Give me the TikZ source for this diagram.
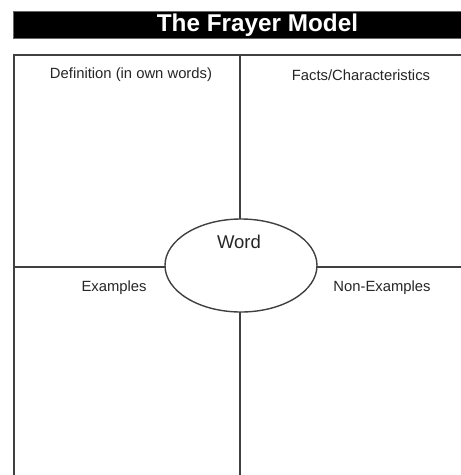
\documentclass[tikz,border=0pt]{standalone}
\usepackage{fontspec}
\setmainfont{Liberation Sans}
\usetikzlibrary{shapes.geometric}
\tikzset{
  gridline/.style={draw=black!75, line width=1.4pt},
  lbl/.style={inner sep=0pt, font=\fontsize{14.8}{17}\selectfont, text=black!85},
  titlebar/.style={fill=black, draw=black!60, line width=0.6pt},
}
\begin{document}
\begin{tikzpicture}[x=1pt,y=-1pt]
\useasboundingbox[fill=white] (0,0) rectangle (461,475);
% title bar
\node[titlebar, minimum width=448pt, minimum height=27pt, inner sep=0pt, anchor=north west] (bar) at (13,11) {};
\node[inner sep=0pt, text=white, font=\fontsize{24.3}{28}\selectfont\bfseries] (title) at (257.5,25) {The Frayer Model};
% grid coordinates
\coordinate (tl) at (14,55);
\coordinate (tr) at (461,55);
\coordinate (bl) at (14,475);
\coordinate (tm) at (240,55);
\coordinate (bm) at (240,475);
\coordinate (ml) at (14,267);
\coordinate (mr) at (461,267);
\draw[gridline] (bl) -- (tl) -- (tr);
\draw[gridline] (tm) -- (bm);
\draw[gridline] (ml) -- (mr);
% central ellipse
\node[ellipse, draw=black!75, line width=1.4pt, fill=white, minimum width=152pt, minimum height=93pt, inner sep=0pt] (ell) at (241,265.5) {};
\node[lbl, font=\fontsize{18.5}{21}\selectfont] (word) at (239,242) {Word};
% quadrant labels
\node[lbl] (def) at (131,75) {Definition (in own words)};
\node[lbl] (facts) at (361,75) {Facts/Characteristics};
\node[lbl] (ex) at (114,288) {Examples};
\node[lbl] (nex) at (382,288) {Non-Examples};
\end{tikzpicture}
\end{document}
